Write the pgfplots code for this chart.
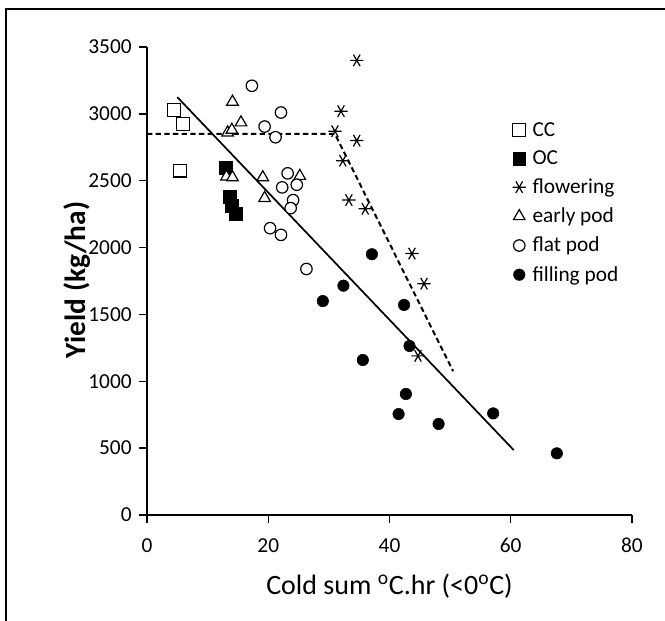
\documentclass[border=0pt]{standalone}
\usepackage{fontspec}
\setmainfont{Carlito}
\usepackage{pgfplots}
\pgfplotsset{compat=1.18}
\begin{document}
\begin{tikzpicture}[x=0.75pt,y=0.75pt]
\useasboundingbox (0,0) rectangle (665,621);
\draw[line width=1.3pt] (6,-5) -- (6,612) -- (670,612);
\begin{axis}[
  at={(110.25pt,79.5pt)}, anchor=south west,
  scale only axis, width=363.75pt, height=351pt,
  xmin=0, xmax=80, ymin=0, ymax=3500,
  xtick={0,20,...,80}, ytick={0,500,...,3500},
  axis lines=left, axis line style={-, line width=1pt},
  tick align=outside, major tick length=6pt,
  tick style={line width=1pt, black},
  ticklabel style={font=\fontsize{16}{19}\selectfont},
  xticklabel style={yshift=-8pt},
  yticklabel style={xshift=-2pt},
  /pgf/number format/assume math mode=true,
  /pgf/number format/1000 sep={},
  clip=false,
  xlabel={Cold sum \textsuperscript{o}C.hr (<0\textsuperscript{o}C)},
  xlabel style={font=\fontsize{21}{25}\selectfont, at={(axis description cs:0.5,-0.152)}, anchor=center},
  ylabel={\bfseries Yield (kg/ha)},
  ylabel style={font=\fontsize{22}{26}\selectfont, at={(axis description cs:-0.144,0.502)}, anchor=center, rotate=0},
  legend style={draw=none, fill=none, at={(rel axis cs:0.745,0.851)}, anchor=north west,
    font=\fontsize{16}{19}\selectfont, row sep=5.3pt, nodes={inner xsep=5pt}},
  legend cell align=left,
]
\addplot[forget plot, line width=1.5pt, dash pattern=on 4pt off 2.5pt] coordinates {(0,2850) (31,2850) (50.5,1075)};
\addplot[only marks, mark=square*, mark size=4.8pt, mark options={draw=black, fill=white, line width=0.9pt}]
  coordinates {(4.5,3030) (5.9,2925) (5.4,2575)};
\addlegendentry{CC}
\addplot[only marks, mark=square*, mark size=4.8pt, mark options={draw=black, fill=black}]
  coordinates {(13.0,2595) (13.7,2380) (14.0,2310) (14.7,2250)};
\addlegendentry{OC}
\addplot[only marks, mark=asterisk, mark size=5pt, mark options={draw=black, line width=0.9pt, rotate=90}]
  coordinates {(34.6,3400) (32.0,3020) (31.0,2870) (34.6,2800) (32.3,2650) (33.3,2355) (36.0,2290) (43.7,1955) (45.7,1730) (44.7,1190)};
\addlegendentry{flowering}
\addplot[only marks, mark=triangle*, mark size=5pt, mark options={draw=black, fill=white, line width=0.9pt}]
  coordinates {(14.1,3090) (15.5,2935) (13.3,2860) (14.0,2880) (13.1,2530) (14.1,2525) (19.1,2525) (19.4,2370) (25.2,2535)};
\addlegendentry{early pod}
\addplot[only marks, mark=*, mark size=4.3pt, mark options={draw=black, fill=white, line width=0.9pt}]
  coordinates {(17.3,3210) (22.1,3010) (19.4,2905) (21.2,2825) (23.2,2555) (24.7,2470) (22.3,2450) (24.1,2355) (23.7,2295) (20.3,2145) (22.1,2095) (26.3,1840)};
\addlegendentry{flat pod}
\addplot[only marks, mark=*, mark size=4.3pt, mark options={draw=black, fill=black}]
  coordinates {(29.0,1600) (32.4,1715) (37.1,1950) (42.4,1571) (43.3,1264) (35.6,1159) (42.7,905) (41.5,755) (48.1,681) (57.1,760) (67.6,461)};
\addlegendentry{filling pod}
\addplot[forget plot, line width=1.3pt] coordinates {(5,3125) (60.5,485)};
\end{axis}
\end{tikzpicture}
\end{document}
